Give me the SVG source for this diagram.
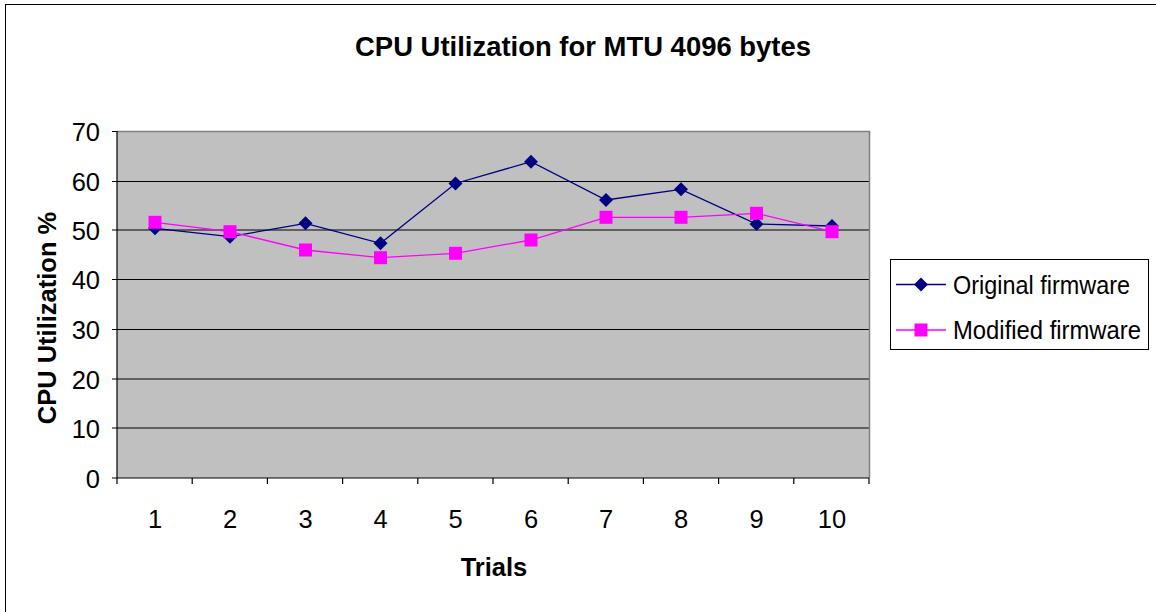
<svg xmlns="http://www.w3.org/2000/svg" width="1156" height="612" viewBox="0 0 1156 612">
<style>
.t{font-family:"Liberation Sans",Arial,sans-serif;fill:#000}
.tick{font-size:25.5px}
.b{font-weight:bold}
.grid{stroke:#000;stroke-width:1}
.orig{fill:none;stroke:#000080;stroke-width:1.3}
.mod{fill:none;stroke:#FF00FF;stroke-width:1.3}
</style>
<defs>
<path id="dia" d="M0,-7 L7,0 L0,7 L-7,0 Z" fill="#000080"/>
<rect id="sq" x="-6.5" y="-6.5" width="13" height="13" fill="#FF00FF"/>
</defs>
<rect x="0" y="0" width="1156" height="612" fill="#fff"/>
<rect x="5.5" y="4.5" width="1300" height="800" fill="none" stroke="#000" stroke-width="1"/>
<text class="t b" transform="translate(583,56) scale(1,1.06)" x="0" y="0" font-size="25.5" text-anchor="middle" textLength="456" lengthAdjust="spacingAndGlyphs">CPU Utilization for MTU 4096 bytes</text>
<g id="plot">
<rect x="117" y="131" width="752" height="347" fill="#C0C0C0"/>
<g class="grid">
<line x1="117" y1="181.5" x2="869" y2="181.5"/>
<line x1="117" y1="230" x2="869" y2="230"/>
<line x1="117" y1="279.5" x2="869" y2="279.5"/>
<line x1="117" y1="329.5" x2="869" y2="329.5"/>
<line x1="117" y1="379" x2="869" y2="379"/>
<line x1="117" y1="428" x2="869" y2="428"/>
</g>
<path d="M117,131.5 H869.5 V478" fill="none" stroke="#808080" stroke-width="1.5"/>
</g>
<g id="axes" stroke="#000" stroke-width="1.2">
<line x1="117" y1="131" x2="117" y2="478"/>
<line x1="112" y1="478" x2="869" y2="478"/>
<path d="M112,131.5H117M112,181.5H117M112,230H117M112,279.5H117M112,329.5H117M112,379H117M112,428H117"/>
<path d="M117,478V484M192.2,478V484M267.4,478V484M342.6,478V484M417.8,478V484M493,478V484M568.2,478V484M643.4,478V484M718.6,478V484M793.8,478V484M869,478V484"/>
</g>
<g id="ylabels" class="t tick" text-anchor="end">
<text x="100" y="140.5">70</text>
<text x="100" y="191">60</text>
<text x="100" y="239.5">50</text>
<text x="100" y="289">40</text>
<text x="100" y="339">30</text>
<text x="100" y="388.5">20</text>
<text x="100" y="437.5">10</text>
<text x="100" y="487.5">0</text>
</g>
<g id="xlabels" class="t tick" text-anchor="middle">
<text x="155" y="527.5">1</text>
<text x="230" y="527.5">2</text>
<text x="305.5" y="527.5">3</text>
<text x="380.5" y="527.5">4</text>
<text x="455.5" y="527.5">5</text>
<text x="531" y="527.5">6</text>
<text x="606" y="527.5">7</text>
<text x="681" y="527.5">8</text>
<text x="756.5" y="527.5">9</text>
<text x="832" y="527.5">10</text>
</g>
<text class="t b" x="494" y="576" font-size="25.5" text-anchor="middle">Trials</text>
<text class="t b" transform="translate(56,318) rotate(-90)" font-size="25.5" text-anchor="middle">CPU Utilization %</text>
<g id="connectors">
<polyline class="orig" points="155,228.3 230,236.7 305.5,223.3 380.5,243.3 455.5,183.5 531,161.7 606,200 681,189.3 756.5,224 832,226"/>
<polyline class="mod" points="155,222.3 230,231.7 305.5,250 380.5,257.7 455.5,253.3 531,240 606,217.3 681,217.3 756.5,213.3 832,231.7"/>
</g>
<g id="series-original">
<use href="#dia" x="155" y="228.3"/><use href="#dia" x="230" y="236.7"/><use href="#dia" x="305.5" y="223.3"/><use href="#dia" x="380.5" y="243.3"/><use href="#dia" x="455.5" y="183.5"/><use href="#dia" x="531" y="161.7"/><use href="#dia" x="606" y="200"/><use href="#dia" x="681" y="189.3"/><use href="#dia" x="756.5" y="224"/><use href="#dia" x="832" y="226"/>
</g>
<g id="series-modified">
<use href="#sq" x="155" y="222.3"/><use href="#sq" x="230" y="231.7"/><use href="#sq" x="305.5" y="250"/><use href="#sq" x="380.5" y="257.7"/><use href="#sq" x="455.5" y="253.3"/><use href="#sq" x="531" y="240"/><use href="#sq" x="606" y="217.3"/><use href="#sq" x="681" y="217.3"/><use href="#sq" x="756.5" y="213.3"/><use href="#sq" x="832" y="231.7"/>
</g>
<g id="legend">
<rect x="890.5" y="259.5" width="258" height="90" fill="#fff" stroke="#000" stroke-width="1"/>
<line class="orig" x1="896" y1="284.5" x2="946" y2="284.5"/>
<use href="#dia" x="921" y="284.5"/>
<line class="mod" x1="896" y1="330" x2="946" y2="330"/>
<use href="#sq" x="921" y="330"/>
<text class="t" x="953" y="293.5" font-size="25" textLength="177" lengthAdjust="spacingAndGlyphs">Original firmware</text>
<text class="t" x="953" y="339" font-size="25" textLength="188" lengthAdjust="spacingAndGlyphs">Modified firmware</text>
</g>
</svg>
